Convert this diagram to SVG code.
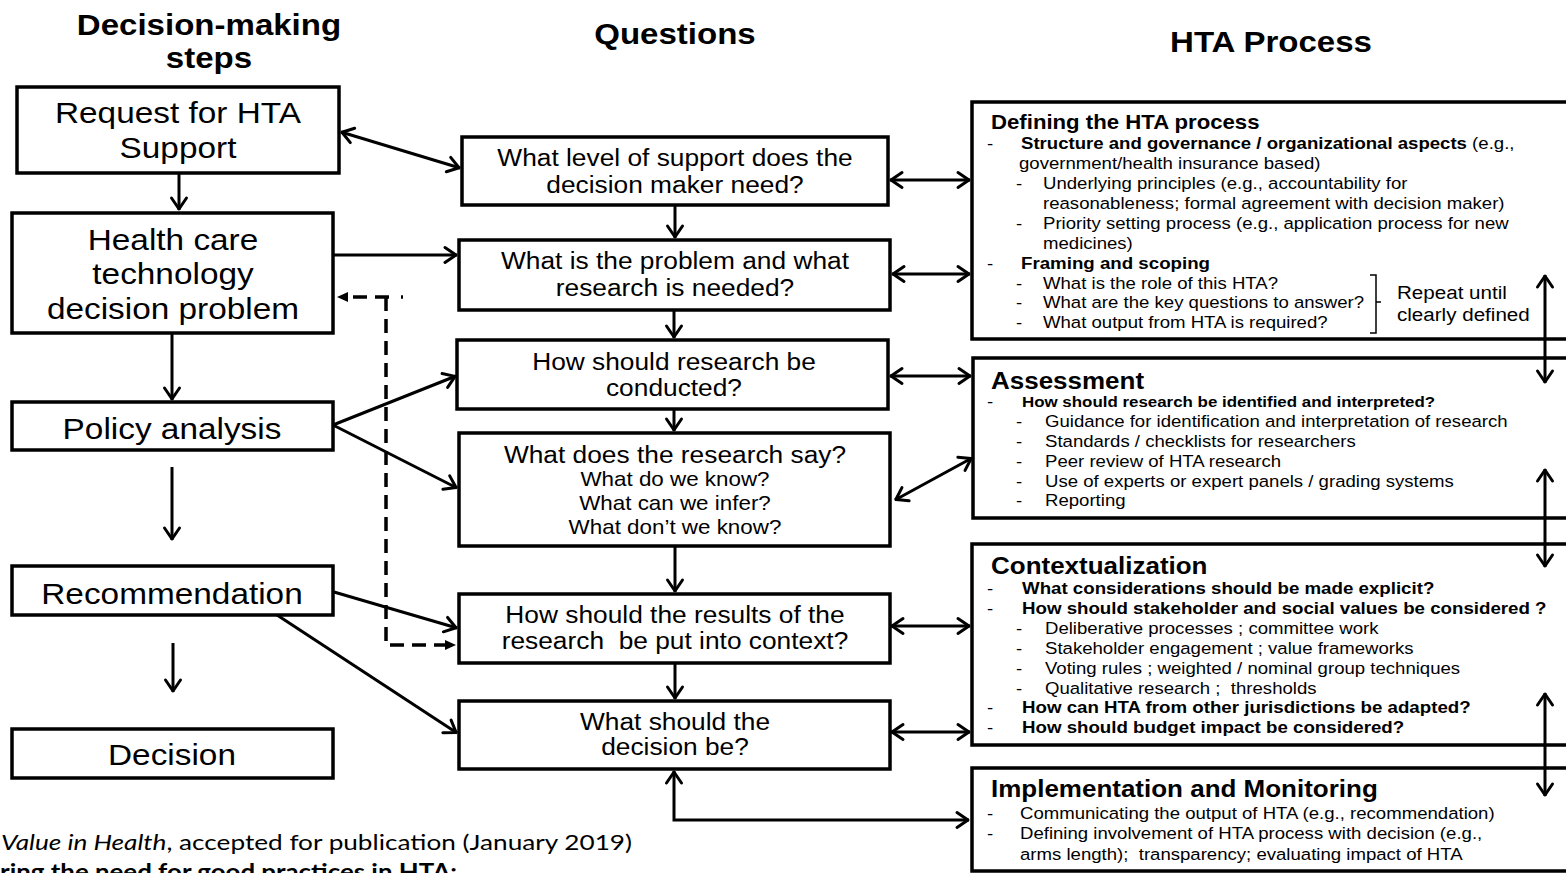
<svg xmlns="http://www.w3.org/2000/svg" width="1566" height="873" viewBox="0 0 1566 873">
  <defs>
    <style>
      text { font-family: "Liberation Sans", Arial, Helvetica, sans-serif; fill: #000; }
      .s { transform-box: fill-box; transform: scaleX(1.12); }
      .m { text-anchor: middle; transform-origin: 50% 50%; }
      .l { transform-origin: 0% 50%; }
      .b { font-weight: bold; }
      .hd { font-size: 29.5px; font-weight: bold; }
      .big { font-size: 29.8px; }
      .q { font-size: 23.5px; }
      .qs { font-size: 20px; }
      .h1 { font-size: 19.8px; font-weight: bold; }
      .h2 { font-size: 23.2px; font-weight: bold; }
      .bd { font-size: 16.6px; }
      .bb { font-size: 16.7px; font-weight: bold; }
      .bs { font-size: 15.1px; font-weight: bold; }
      .rep { font-size: 18.4px; }
      .cap { font-family: Lato, "Open Sans", sans-serif; font-size: 22px; }
      .pre { white-space: pre; }
      .box { fill: #fff; stroke: #000; stroke-width: 3.5; }
      .ln { fill: none; stroke: #000; stroke-width: 3; }
      .one { marker-end: url(#arr); }
      .two { marker-start: url(#arr); marker-end: url(#arr); }
      .dash { fill: none; stroke: #000; stroke-width: 3.5; stroke-dasharray: 14 8; marker-end: url(#tri); }
    </style>
    <marker id="arr" markerUnits="userSpaceOnUse" viewBox="-16 -10 18 20" refX="0" refY="0" markerWidth="18" markerHeight="20" orient="auto-start-reverse" overflow="visible">
      <path d="M-12,-7.5 L-1,0 L-12,7.5" fill="none" stroke="#000" stroke-width="3" stroke-linecap="round" stroke-linejoin="round"/>
    </marker>
    <marker id="tri" markerUnits="userSpaceOnUse" viewBox="-12 -6 14 12" refX="0" refY="0" markerWidth="14" markerHeight="12" orient="auto" overflow="visible">
      <path d="M-11,-5 L0,0 L-11,5 z" fill="#000"/>
    </marker>
  </defs>

  <rect width="1566" height="873" fill="#fff"/>

  <!-- column headings -->
  <g id="headings">
    <text class="s m hd" x="209" y="35">Decision-making</text>
    <text class="s m hd" x="209" y="68">steps</text>
    <text class="s m hd" x="675" y="44">Questions</text>
    <text class="s m hd" x="1271" y="52">HTA Process</text>
  </g>

  <!-- decision-making steps -->
  <g id="request">
    <rect class="box" x="17" y="87" width="322" height="86"/>
    <text class="s m big" x="178" y="123">Request for HTA</text>
    <text class="s m big" x="178" y="158">Support</text>
  </g>
  <g id="problem">
    <rect class="box" x="12" y="213" width="321" height="120"/>
    <text class="s m big" x="173" y="250">Health care</text>
    <text class="s m big" x="173" y="284">technology</text>
    <text class="s m big" x="173" y="319">decision problem</text>
  </g>
  <g id="policy">
    <rect class="box" x="12" y="402" width="321" height="48"/>
    <text class="s m big" x="172" y="439">Policy analysis</text>
  </g>
  <g id="recommendation">
    <rect class="box" x="12" y="566" width="321" height="49"/>
    <text class="s m big" x="172" y="604">Recommendation</text>
  </g>
  <g id="decision">
    <rect class="box" x="12" y="729" width="321" height="49"/>
    <text class="s m big" x="172" y="765">Decision</text>
  </g>

  <!-- questions -->
  <g id="q-support">
    <rect class="box" x="462" y="137" width="426" height="68"/>
    <text class="s m q" x="675" y="166">What level of support does the</text>
    <text class="s m q" x="675" y="193">decision maker need?</text>
  </g>
  <g id="q-problem">
    <rect class="box" x="459" y="240" width="431" height="70"/>
    <text class="s m q" x="675" y="269">What is the problem and what</text>
    <text class="s m q" x="675" y="296">research is needed?</text>
  </g>
  <g id="q-conduct">
    <rect class="box" x="457" y="340" width="431" height="69"/>
    <text class="s m q" x="674" y="370">How should research be</text>
    <text class="s m q" x="674" y="396">conducted?</text>
  </g>
  <g id="q-evidence">
    <rect class="box" x="459" y="433" width="431" height="113"/>
    <text class="s m q" x="675" y="463">What does the research say?</text>
    <text class="s m qs" x="675" y="486">What do we know?</text>
    <text class="s m qs" x="675" y="510">What can we infer?</text>
    <text class="s m qs" x="675" y="534">What don’t we know?</text>
  </g>
  <g id="q-context">
    <rect class="box" x="459" y="594" width="431" height="69"/>
    <text class="s m q" x="675" y="623">How should the results of the</text>
    <text class="s m q pre" x="675" y="649">research  be put into context?</text>
  </g>
  <g id="q-decision">
    <rect class="box" x="459" y="701" width="431" height="68"/>
    <text class="s m q" x="675" y="730">What should the</text>
    <text class="s m q" x="675" y="755">decision be?</text>
  </g>

  <!-- HTA process -->
  <g id="defining">
    <rect class="box" x="972" y="102" width="620" height="237"/>
    <text class="s l h1" x="991" y="129">Defining the HTA process</text>
    <text class="s l bd" x="987" y="149">-</text>
    <text class="s l bd" x="1021" y="149"><tspan class="b">Structure and governance / organizational aspects</tspan> (e.g.,</text>
    <text class="s l bd" x="1019" y="169">government/health insurance based)</text>
    <text class="s l bd" x="1016" y="189">-</text>
    <text class="s l bd" x="1043" y="189">Underlying principles (e.g., accountability for</text>
    <text class="s l bd" x="1043" y="209">reasonableness; formal agreement with decision maker)</text>
    <text class="s l bd" x="1016" y="229">-</text>
    <text class="s l bd" x="1043" y="229">Priority setting process (e.g., application process for new</text>
    <text class="s l bd" x="1043" y="249">medicines)</text>
    <text class="s l bd" x="987" y="269">-</text>
    <text class="s l bb" x="1021" y="269">Framing and scoping</text>
    <text class="s l bd" x="1016" y="289">-</text>
    <text class="s l bd" x="1043" y="289">What is the role of this HTA?</text>
    <text class="s l bd" x="1016" y="308">-</text>
    <text class="s l bd" x="1043" y="308">What are the key questions to answer?</text>
    <text class="s l bd" x="1016" y="328">-</text>
    <text class="s l bd" x="1043" y="328">What output from HTA is required?</text>
    <path d="M1370,275 H1376 V333 H1370 M1376,302 H1381" fill="none" stroke="#000" stroke-width="1.5"/>
    <text class="s l rep" x="1397" y="299">Repeat until</text>
    <text class="s l rep" x="1397" y="321">clearly defined</text>
  </g>
  <g id="assessment">
    <rect class="box" x="973" y="358" width="620" height="160"/>
    <text class="s l h2" x="991" y="389">Assessment</text>
    <text class="s l bd" x="987" y="407">-</text>
    <text class="s l bs" x="1022" y="407">How should research be identified and interpreted?</text>
    <text class="s l bd" x="1016" y="427">-</text>
    <text class="s l bd" x="1045" y="427">Guidance for identification and interpretation of research</text>
    <text class="s l bd" x="1016" y="447">-</text>
    <text class="s l bd" x="1045" y="447">Standards / checklists for researchers</text>
    <text class="s l bd" x="1016" y="467">-</text>
    <text class="s l bd" x="1045" y="467">Peer review of HTA research</text>
    <text class="s l bd" x="1016" y="487">-</text>
    <text class="s l bd" x="1045" y="487">Use of experts or expert panels / grading systems</text>
    <text class="s l bd" x="1016" y="506">-</text>
    <text class="s l bd" x="1045" y="506">Reporting</text>
  </g>
  <g id="contextualization">
    <rect class="box" x="972" y="544" width="620" height="201"/>
    <text class="s l h2" x="991" y="574">Contextualization</text>
    <text class="s l bd" x="987" y="594">-</text>
    <text class="s l bb" x="1022" y="594">What considerations should be made explicit?</text>
    <text class="s l bd" x="987" y="614">-</text>
    <text class="s l bb" x="1022" y="614">How should stakeholder and social values be considered ?</text>
    <text class="s l bd" x="1016" y="634">-</text>
    <text class="s l bd" x="1045" y="634">Deliberative processes ; committee work</text>
    <text class="s l bd" x="1016" y="654">-</text>
    <text class="s l bd" x="1045" y="654">Stakeholder engagement ; value frameworks</text>
    <text class="s l bd" x="1016" y="674">-</text>
    <text class="s l bd" x="1045" y="674">Voting rules ; weighted / nominal group techniques</text>
    <text class="s l bd" x="1016" y="694">-</text>
    <text class="s l bd pre" x="1045" y="694">Qualitative research ;  thresholds</text>
    <text class="s l bd" x="987" y="713">-</text>
    <text class="s l bb" x="1022" y="713">How can HTA from other jurisdictions be adapted?</text>
    <text class="s l bd" x="987" y="733">-</text>
    <text class="s l bb" x="1022" y="733">How should budget impact be considered?</text>
  </g>
  <g id="implementation">
    <rect class="box" x="972" y="768" width="620" height="103"/>
    <text class="s l h2" x="991" y="797">Implementation and Monitoring</text>
    <text class="s l bd" x="987" y="819">-</text>
    <text class="s l bd" x="1020" y="819">Communicating the output of HTA (e.g., recommendation)</text>
    <text class="s l bd" x="987" y="839">-</text>
    <text class="s l bd" x="1020" y="839">Defining involvement of HTA process with decision (e.g.,</text>
    <text class="s l bd pre" x="1020" y="860">arms length);  transparency; evaluating impact of HTA</text>
  </g>

  <!-- connectors, drawn over the boxes -->
  <g id="connectors">
    <path class="ln one" d="M179,173 V210"/>
    <path class="ln one" d="M172,333 V400"/>
    <path class="ln one" d="M172,467 V540"/>
    <path class="ln one" d="M173,643 V692"/>

    <path class="ln one" d="M675,205 V238"/>
    <path class="ln one" d="M674,310 V338"/>
    <path class="ln one" d="M674,409 V431"/>
    <path class="ln one" d="M675,546 V592"/>
    <path class="ln one" d="M675,663 V699"/>

    <path class="ln two" d="M341,132 L460,168"/>
    <path class="ln one" d="M333,255 H457"/>
    <path class="ln one" d="M333,425 L456,376"/>
    <path class="ln one" d="M333,425 L457,488"/>
    <path class="ln one" d="M334,592 L457,628"/>
    <path class="ln one" d="M277,615 L457,733"/>

    <path class="dash" d="M403,297 H337" style="stroke-dasharray: 2 12 14 8 14 8"/>
    <path class="dash" d="M386,297 V645 H456"/>

    <path class="ln two" d="M890,180 H970"/>
    <path class="ln two" d="M892,274 H970"/>
    <path class="ln two" d="M890,376 H971"/>
    <path class="ln two" d="M895,500 L972,458"/>
    <path class="ln two" d="M891,626 H970"/>
    <path class="ln two" d="M891,732 H970"/>
    <path class="ln two" d="M674,771 V820 H969"/>

    <path class="ln two" d="M1545,275 V383"/>
    <path class="ln two" d="M1545,469 V567"/>
    <path class="ln two" d="M1545,693 V796"/>
  </g>

  <!-- source note -->
  <g id="note">
    <text class="cap" x="1" y="850" textLength="631" lengthAdjust="spacingAndGlyphs"><tspan font-style="italic">Value in Health</tspan>, accepted for publication (January 2019)</text>
    <text class="cap b" x="0" y="880" textLength="457" lengthAdjust="spacingAndGlyphs">ring the need for good practices in HTA:</text>
  </g>
</svg>
